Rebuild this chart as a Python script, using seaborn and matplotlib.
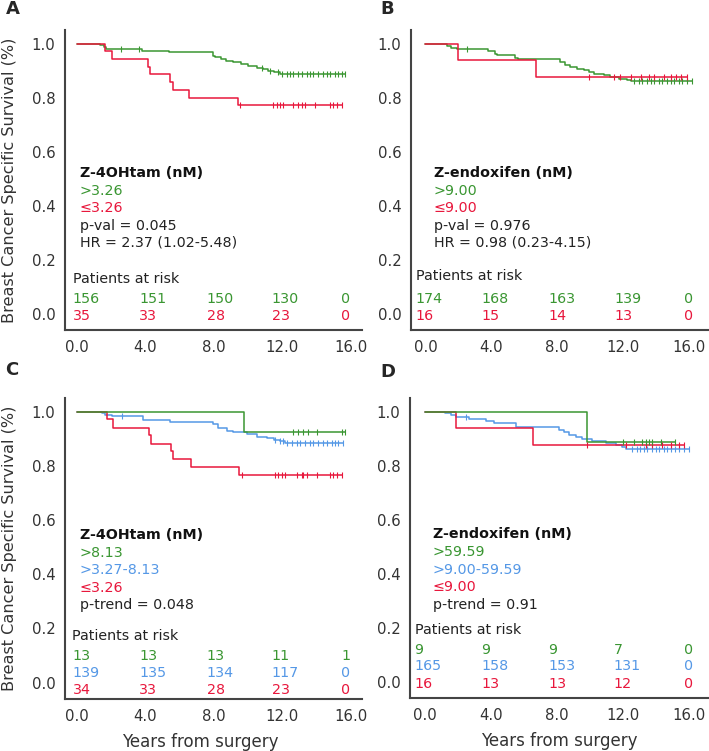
import numpy as np
import pandas as pd
import matplotlib
matplotlib.use("Agg")
import matplotlib.pyplot as plt
import seaborn as sns

GREEN = "#3a9632"
BLUE = "#5598e6"
RED = "#e8173c"
GREY = "#333333"

# ---- panel A: Z-4OHtam, two groups ----
a_hi_t = [0, 1.35, 1.6, 1.7, 3.8, 5.4, 7.95, 8.1, 8.4, 8.7, 9.1, 9.6, 10.0, 10.5, 10.9, 11.2, 11.5, 11.9]
a_hi_s = [1.0, 0.994, 0.987, 0.981, 0.974, 0.968, 0.955, 0.949, 0.942, 0.936, 0.93, 0.924, 0.917, 0.911,
          0.905, 0.899, 0.893, 0.886]
a_hi_c = [2.6, 3.6, 10.8, 11.3, 11.77, 11.97, 12.26, 12.46, 12.65, 12.94, 13.14, 13.43, 13.63, 13.82, 14.11,
          14.41, 14.6, 14.8, 15.09, 15.28, 15.48, 15.67]
a_lo_t = [0, 1.64, 2.03, 4.17, 4.27, 5.44, 5.63, 6.57, 9.43]
a_lo_s = [1.0, 0.971, 0.943, 0.914, 0.886, 0.857, 0.829, 0.8, 0.771]
a_lo_c = [9.53, 11.48, 11.68, 11.87, 12.06, 12.65, 12.94, 13.14, 13.33, 13.92, 14.8, 14.99, 15.19, 15.48]

# ---- panel B: Z-endoxifen, two groups ----
b_hi_t = [0, 1.28, 1.58, 1.89, 3.82, 4.23, 4.33, 5.44, 5.65, 8.19, 8.49, 8.8, 9.2, 9.61, 9.91, 10.22, 10.83,
          11.24, 11.74, 12.25, 12.46]
b_hi_s = [1.0, 0.991, 0.985, 0.979, 0.973, 0.963, 0.957, 0.948, 0.941, 0.932, 0.922, 0.913, 0.907, 0.901,
          0.895, 0.889, 0.883, 0.876, 0.870, 0.864, 0.860]
b_hi_c = [2.5, 12.66, 12.96, 13.17, 13.48, 13.68, 13.88, 14.19, 14.39, 14.7, 14.9, 15.1, 15.4, 15.61, 15.91,
          16.2]
b_lo_t = [0, 2.0, 6.7]
b_lo_s = [1.0, 0.9375, 0.875]
b_lo_c = [9.91, 11.44, 11.85, 12.46, 13.07, 13.57, 13.88, 14.49, 14.9, 15.2, 15.51, 15.91]

# ---- panel C: Z-4OHtam, three groups ----
c_hi_t = [0, 9.75]
c_hi_s = [1.0, 0.923]
c_hi_c = [12.65, 12.94, 13.23, 13.53, 14.02, 15.48, 15.67]
c_mid_t = [0, 1.44, 1.64, 2.03, 3.88, 5.44, 7.97, 8.26, 8.75, 9.14, 9.92, 10.5, 11.1, 11.5, 11.87, 12.16]
c_mid_s = [1.0, 0.994, 0.988, 0.982, 0.969, 0.963, 0.953, 0.941, 0.929, 0.923, 0.917, 0.908, 0.901, 0.894,
           0.890, 0.883]
c_mid_c = [2.61, 11.58, 11.87, 12.06, 12.26, 12.56, 12.85, 13.04, 13.33, 13.63, 13.82, 14.11, 14.4, 14.6,
           14.89, 15.09, 15.28, 15.57]
c_lo_t = [0, 1.74, 2.1, 4.22, 4.32, 5.52, 5.62, 6.65, 9.45]
c_lo_s = [1.0, 0.971, 0.941, 0.912, 0.882, 0.853, 0.824, 0.794, 0.765]
c_lo_c = [9.63, 11.58, 11.77, 11.97, 12.16, 12.85, 13.14, 13.23, 13.43, 14.02, 14.8, 14.99, 15.19, 15.48]

# ---- panel D: Z-endoxifen, three groups ----
d_hi_t = [0, 9.87]
d_hi_s = [1.0, 0.889]
d_hi_c = [12.0, 12.7, 13.2, 13.4, 13.6, 13.8, 14.3, 15.2]
d_mid_t = [0, 1.21, 1.61, 1.91, 2.72, 3.72, 4.23, 5.54, 8.15, 8.45, 8.76, 9.16, 9.56, 10.16, 10.97, 11.57,
           11.98, 12.18]
d_mid_s = [1.0, 0.994, 0.987, 0.978, 0.972, 0.966, 0.957, 0.941, 0.933, 0.923, 0.913, 0.904, 0.898, 0.890,
           0.883, 0.877, 0.870, 0.863]
d_mid_c = [2.52, 12.58, 12.88, 13.08, 13.29, 13.49, 13.79, 13.99, 14.19, 14.49, 14.69, 14.9, 15.2, 15.4,
           15.7, 16.0]
d_lo_t = [0, 1.9, 6.6]
d_lo_s = [1.0, 0.9375, 0.875]
d_lo_c = [9.86, 12.18, 13.39, 13.79, 14.39, 14.9, 15.4, 15.7]

# ---- patients at risk (years 0, 4, 8, 12, 16) ----
risk_a = [[156, 151, 150, 130, 0], [35, 33, 28, 23, 0]]
risk_b = [[174, 168, 163, 139, 0], [16, 15, 14, 13, 0]]
risk_c = [[13, 13, 13, 11, 1], [139, 135, 134, 117, 0], [34, 33, 28, 23, 0]]
risk_d = [[9, 9, 9, 7, 0], [165, 158, 153, 131, 0], [16, 13, 13, 12, 0]]

# ---- legend texts ----
text_a = ["Z-4OHtam (nM)", ">3.26", "\u22643.26", "p-val = 0.045", "HR = 2.37 (1.02-5.48)"]
text_b = ["Z-endoxifen (nM)", ">9.00", "\u22649.00", "p-val = 0.976", "HR = 0.98 (0.23-4.15)"]
text_c = ["Z-4OHtam (nM)", ">8.13", ">3.27-8.13", "\u22643.26", "p-trend = 0.048"]
text_d = ["Z-endoxifen (nM)", ">59.59", ">9.00-59.59", "\u22649.00", "p-trend = 0.91"]

sns.set_style("ticks")
plt.rcParams["font.family"] = ["DejaVu Sans"]

W, H = 709, 751
FS = 10.3
fig = plt.figure(figsize=(W / 100, H / 100), dpi=100)


def px_axes(left, top, right, bottom):
    return fig.add_axes([left / W, 1 - bottom / H, (right - left) / W, (bottom - top) / H])


def km(ax, t, s, c, color):
    t = np.asarray(t, float)
    s = np.asarray(s, float)
    end = max(c)
    df = pd.DataFrame({"t": np.append(t, end), "s": np.append(s, s[-1])})
    sns.lineplot(data=df, x="t", y="s", drawstyle="steps-post", color=color, lw=1.1,
                 estimator=None, sort=False, ax=ax)
    idx = np.searchsorted(t, c, side="right") - 1
    sns.scatterplot(x=c, y=s[idx], marker="|", s=18, color=color, linewidth=0.8, ax=ax, zorder=3)


def style(ax, xlim):
    ax.set_xlim(*xlim)
    ax.set_ylim(-0.06, 1.05)
    ax.set_xticks([0, 4, 8, 12, 16])
    ax.set_xticklabels(["0.0", "4.0", "8.0", "12.0", "16.0"])
    ax.set_yticks([0, 0.2, 0.4, 0.6, 0.8, 1.0])
    ax.set_yticklabels(["0.0", "0.2", "0.4", "0.6", "0.8", "1.0"])
    ax.tick_params(length=0, labelsize=10.7, colors=GREY, pad=7)
    sns.despine(ax=ax)
    for sp in ["left", "bottom"]:
        ax.spines[sp].set_color("#444444")
        ax.spines[sp].set_linewidth(1.5)
    ax.set_xlabel("")
    ax.set_ylabel("")


def annotate(ax, lines, colors, x0, ys, risk, risk_colors, risk_x, px, py, rys):
    for i, (txt, col) in enumerate(zip(lines, colors)):
        ax.text(x0, ys[i], txt, color=col, fontsize=FS, va="center", ha="left",
                fontweight="bold" if i == 0 else "normal")
    ax.text(px, py, "Patients at risk", fontsize=FS, color="#222222", va="center", ha="left")
    for row, col, ry in zip(risk, risk_colors, rys):
        for val, xx in zip(row, risk_x):
            ax.text(xx, ry, str(val), fontsize=FS, color=col, va="center", ha="left")


left_x = (-0.70, 16.67)
right_x = (-0.88, 17.23)
risk_x_left = [-0.25, 3.65, 7.58, 11.38, 15.47]
risk_x_right = [-0.6, 3.42, 7.5, 11.47, 15.7]

axA = px_axes(65, 30, 362, 330)
axB = px_axes(411, 30, 709, 330)
axC = px_axes(65, 398, 362, 699)
axD = px_axes(410, 398, 709, 698)

km(axA, a_hi_t, a_hi_s, a_hi_c, GREEN)
km(axA, a_lo_t, a_lo_s, a_lo_c, RED)
style(axA, left_x)
annotate(axA, text_a, ["#111111", GREEN, RED, "#222222", "#222222"], 0.17,
         [0.52, 0.456, 0.392, 0.326, 0.262], risk_a, [GREEN, RED], risk_x_left,
         -0.22, 0.13, [0.056, -0.01])

km(axB, b_hi_t, b_hi_s, b_hi_c, GREEN)
km(axB, b_lo_t, b_lo_s, b_lo_c, RED)
style(axB, right_x)
annotate(axB, text_b, ["#111111", GREEN, RED, "#222222", "#222222"], 0.5,
         [0.52, 0.456, 0.392, 0.326, 0.262], risk_b, [GREEN, RED], risk_x_right,
         -0.55, 0.14, [0.056, -0.01])

km(axC, c_mid_t, c_mid_s, c_mid_c, BLUE)
km(axC, c_lo_t, c_lo_s, c_lo_c, RED)
km(axC, c_hi_t, c_hi_s, c_hi_c, GREEN)
style(axC, left_x)
annotate(axC, text_c, ["#111111", GREEN, BLUE, RED, "#222222"], 0.17,
         [0.545, 0.48, 0.415, 0.35, 0.285], risk_c, [GREEN, BLUE, RED], risk_x_left,
         -0.28, 0.172, [0.1, 0.037, -0.028])

km(axD, d_mid_t, d_mid_s, d_mid_c, BLUE)
km(axD, d_lo_t, d_lo_s, d_lo_c, RED)
km(axD, d_hi_t, d_hi_s, d_hi_c, GREEN)
style(axD, right_x)
annotate(axD, text_d, ["#111111", GREEN, BLUE, RED, "#222222"], 0.5,
         [0.545, 0.48, 0.415, 0.35, 0.285], risk_d, [GREEN, BLUE, RED], risk_x_right,
         -0.6, 0.193, [0.119, 0.058, -0.007])

for ax in (axA, axC):
    ax.set_ylabel("Breast Cancer Specific Survival (%)", fontsize=11.6, color=GREY)
    ax.yaxis.set_label_coords(-0.16, 0.5)
axC.set_xlabel("Years from surgery", fontsize=12, color=GREY)
axC.xaxis.set_label_coords(0.455, -0.112)
axD.set_xlabel("Years from surgery", fontsize=12, color=GREY)
axD.xaxis.set_label_coords(0.5, -0.112)

for letter, x, y in [("A", 13, 9), ("B", 387, 9), ("C", 12, 370), ("D", 388, 372)]:
    fig.text(x / W, 1 - y / H, letter, fontsize=13, fontweight="bold", ha="center", va="center")

fig.savefig("out.png", dpi=100)
